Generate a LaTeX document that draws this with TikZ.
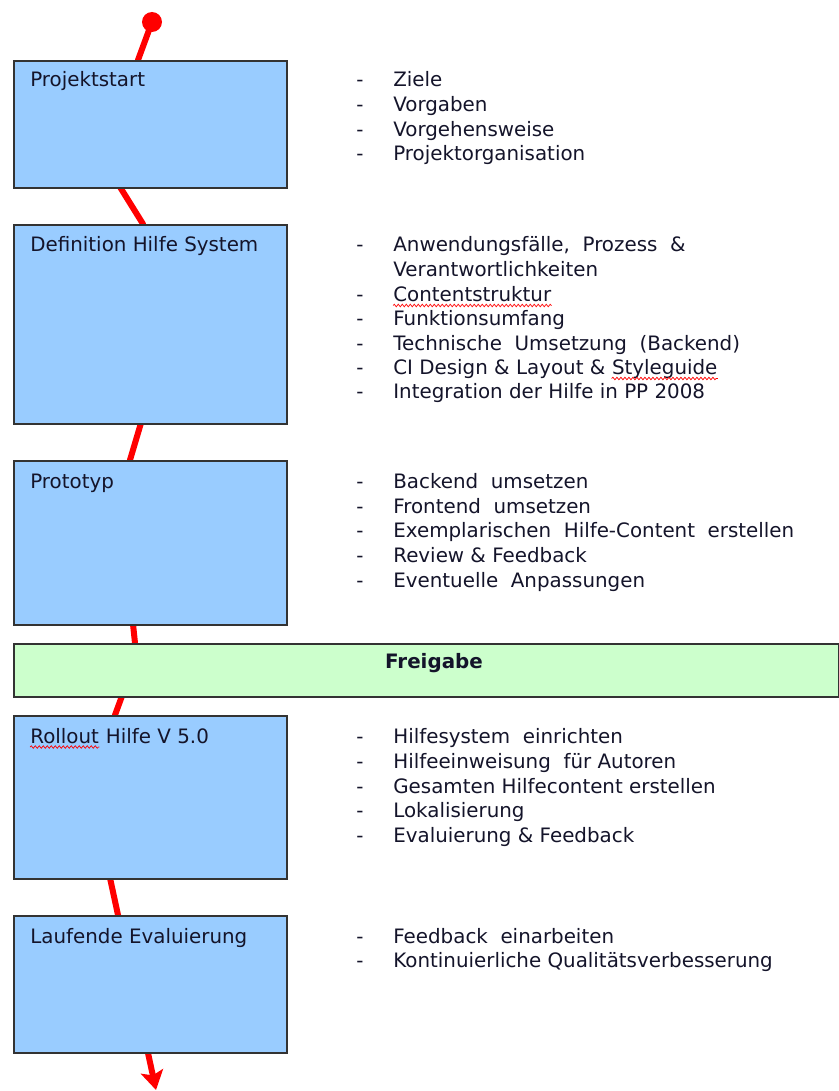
\documentclass[tikz,border=0pt]{standalone}
\usepackage{fontspec}
\setmainfont{DejaVu Sans}
\usetikzlibrary{arrows.meta,decorations.pathmorphing}
\definecolor{boxblue}{HTML}{99CCFF}
\definecolor{boxgreen}{HTML}{CCFFCC}
\definecolor{txt}{HTML}{14142A}
\definecolor{lineRed}{HTML}{FF0000}
\begin{document}
\begin{tikzpicture}[x=0.02cm,y=-0.02cm,
  phase/.style={draw=black!80, line width=0.035cm, fill=boxblue, anchor=north west, inner sep=0pt, minimum width=5.46cm},
  gate/.style={draw=black!80, line width=0.035cm, fill=boxgreen, anchor=north west, inner sep=0pt, minimum width=16.5cm, minimum height=1.06cm},
  lbl/.style={anchor=base west, inner sep=0pt, text=txt, font=\fontsize{11.3}{13.5}\selectfont},
  item/.style={anchor=base west, inner sep=0pt, text=txt, font=\fontsize{11.3}{13.5}\selectfont},
  redline/.style={draw=lineRed, line width=0.12cm, line join=round},
  wavy/.style={draw=red, line width=0.4pt, decorate, decoration={snake, amplitude=0.025cm, segment length=0.08cm}}
]
\useasboundingbox (0,0) rectangle (838,1091);

% red process line (behind boxes)
\coordinate (start) at (152,22);
\coordinate (finish) at (156,1090);
\draw[redline, -{Stealth[width=0.45cm,length=0.38cm,inset=0.08cm]}]
  (start) -- (138,60) -- (120,187) -- (143,224) -- (141,423) -- (130,460) -- (133,624)
  -- (135,643) -- (122,696) -- (115,715) -- (110,878) -- (118,915) -- (148,1053) -- (finish);
\fill[lineRed] (start) circle (0.2cm);

% phase boxes
\node[phase, minimum height=2.54cm] (p1) at (13,60) {};
\node[phase, minimum height=3.98cm] (p2) at (13,224) {};
\node[phase, minimum height=3.28cm] (p3) at (13,460) {};
\node[gate] (g) at (13,643) {};
\node[phase, minimum height=3.26cm] (p4) at (13,715) {};
\node[phase, minimum height=2.74cm] (p5) at (13,915) {};

\node[anchor=center, inner sep=0pt, text=txt, font=\fontsize{11.3}{13.5}\selectfont\bfseries] (gl) at (434,663) {Freigabe};

% box titles
\node[lbl] (t1) at (30,87) {Projektstart};
\node[lbl] (t2) at (30,251) {Definition Hilfe System};
\node[lbl] (t3) at (30,488) {Prototyp};
\node[lbl] (t4a) at (30,743) {Rollout};
\node[lbl, anchor=base west] (t4b) at (t4a.base east) {\ Hilfe V 5.0};
\node[lbl] (t5) at (30,943) {Laufende Evaluierung};
\draw[wavy] ([yshift=-0.08cm]t4a.base west) -- ([yshift=-0.08cm]t4a.base east);

% box 1
\foreach \yy/\tt in {87/Ziele, 112/Vorgaben, 137/Vorgehensweise, 161/Projektorganisation}{
  \node[item] at (356,\yy) {-};
  \node[item] at (393,\yy) {\tt};
}
% box 2
\node[item] at (356,251) {-};
\node[item] (a1) at (393,251) {Anwendungsfälle,\ \ Prozess\ \ \&};
\node[item] (a2) at (393,276) {Verantwortlichkeiten};
\node[item] at (356,301) {-};
\node[item] (a3) at (393,301) {Contentstruktur};
\draw[wavy] ([yshift=-0.09cm]a3.base west) -- ([yshift=-0.09cm]a3.base east);
\node[item] at (356,325) {-};
\node[item] (a4) at (393,325) {Funktionsumfang};
\node[item] at (356,350) {-};
\node[item] (a5) at (393,350) {Technische\ \ Umsetzung\ \ (Backend)};
\node[item] at (356,374) {-};
\node[item] (a6) at (393,374) {CI Design \& Layout \&};
\node[item, anchor=base west] (a6b) at ([xshift=0.12cm]a6.base east) {Styleguide};
\draw[wavy] ([yshift=-0.09cm]a6b.base west) -- ([yshift=-0.09cm]a6b.base east);
\node[item] at (356,398) {-};
\node[item] (a7) at (393,398) {Integration der Hilfe in PP 2008};
% box 3
\foreach \yy/\tt in {488/Backend\ \ umsetzen, 513/Frontend\ \ umsetzen, 537/Exemplarischen\ \ Hilfe-Content\ \ erstellen, 562/Review\ \&\ Feedback, 587/Eventuelle\ \ Anpassungen}{
  \node[item] at (356,\yy) {-};
  \node[item] at (393,\yy) {\tt};
}
% box 4
\foreach \yy/\tt in {743/Hilfesystem\ \ einrichten, 768/Hilfeeinweisung\ \ für\ Autoren, 793/Gesamten\ Hilfecontent\ erstellen, 817/Lokalisierung, 842/Evaluierung\ \&\ Feedback}{
  \node[item] at (356,\yy) {-};
  \node[item] at (393,\yy) {\tt};
}
% box 5
\foreach \yy/\tt in {943/Feedback\ \ einarbeiten, 967/Kontinuierliche\ Qualitätsverbesserung}{
  \node[item] at (356,\yy) {-};
  \node[item] at (393,\yy) {\tt};
}
\end{tikzpicture}
\end{document}
